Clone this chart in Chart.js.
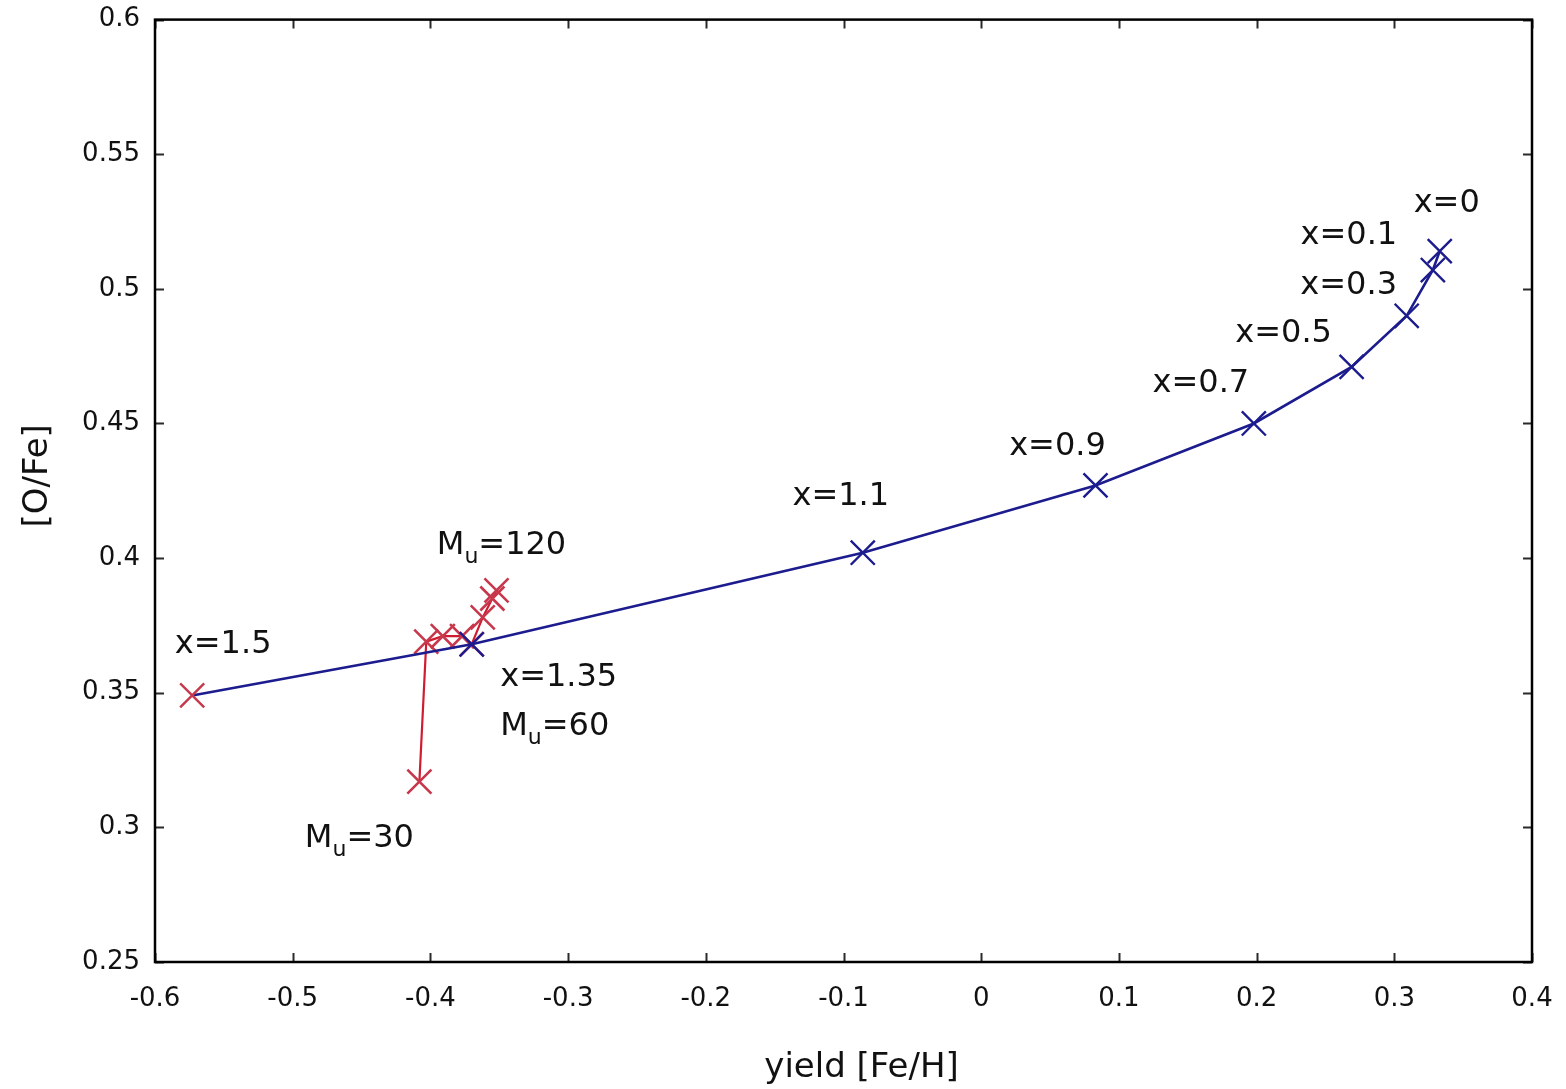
<!DOCTYPE html>
<html>
<head>
<meta charset="utf-8">
<script src="https://cdn.jsdelivr.net/npm/chart.js@4.4.1/dist/chart.umd.min.js"></script>
<style>
  html, body { margin: 0; padding: 0; background: #ffffff; }
  #wrap { width: 1566px; height: 1089px; }
</style>
</head>
<body>
<div id="wrap"><canvas id="c" width="1566" height="1089"></canvas></div>
<script>
// Axis ticks
const xTickValues = [-0.6, -0.5, -0.4, -0.3, -0.2, -0.1, 0, 0.1, 0.2, 0.3, 0.4];
const xTickLabels = ['-0.6', '-0.5', '-0.4', '-0.3', '-0.2', '-0.1', '0', '0.1', '0.2', '0.3', '0.4'];
const yTickValues = [0.25, 0.3, 0.35, 0.4, 0.45, 0.5, 0.55, 0.6];
const yTickLabels = ['0.25', '0.3', '0.35', '0.4', '0.45', '0.5', '0.55', '0.6'];

// IMF slope sequence (x = 0 ... 1.5)
const slopeNames = ['x=0', 'x=0.1', 'x=0.3', 'x=0.5', 'x=0.7', 'x=0.9', 'x=1.1', 'x=1.35', 'x=1.5'];
const slopeFeH = [0.333, 0.328, 0.309, 0.269, 0.198, 0.083, -0.086, -0.370, -0.573];
const slopeOFe = [0.514, 0.507, 0.490, 0.471, 0.450, 0.427, 0.402, 0.368, 0.349];

// Upper mass limit sequence at x = 1.35 (M_u = 30 ... 120)
const massFeH = [-0.408, -0.403, -0.391, -0.377, -0.370, -0.362, -0.355, -0.352];
const massOFe = [0.317, 0.369, 0.371, 0.371, 0.368, 0.378, 0.385, 0.388];

const BLUE = '#1c1c8e';
const RED = '#d01c30';
const PINK = '#c8384c';
const FONT = '"DejaVu Sans", sans-serif';

function pts(xs, ys) { return xs.map((v, i) => ({ x: v, y: ys[i] })); }

// Point annotations: [dataset, point index, main text, subscript, trailing text, dx, dy]
const annotations = [
  [0, 0, slopeNames[0], '', '', 7, -47],
  [0, 1, slopeNames[1], '', '', -84, -34],
  [0, 2, slopeNames[2], '', '', -58, -30],
  [0, 3, slopeNames[3], '', '', -68, -33],
  [0, 4, slopeNames[4], '', '', -53, -40],
  [0, 5, slopeNames[5], '', '', -38, -39],
  [0, 6, slopeNames[6], '', '', -22, -56],
  [0, 7, slopeNames[7], '', '', 87, 33],
  [0, 7, 'M', 'u', '=60', 83, 82],
  [0, 8, slopeNames[8], '', '', 31, -51],
  [1, 7, 'M', 'u', '=120', 5, -45],
  [1, 0, 'M', 'u', '=30', -60, 57]
];

const framePlugin = {
  id: 'frame',
  afterDraw(chart) {
    const ctx = chart.ctx;
    const a = chart.chartArea;
    const xs = chart.scales.x, ys = chart.scales.y;
    ctx.save();
    // inward tick marks on all four sides
    ctx.strokeStyle = '#2a2a2a';
    ctx.lineWidth = 2;
    const tl = 9;
    ctx.beginPath();
    xTickValues.forEach(v => {
      const px = Math.round(xs.getPixelForValue(v)) + 0.5;
      ctx.moveTo(px, a.bottom); ctx.lineTo(px, a.bottom - tl);
      ctx.moveTo(px, a.top); ctx.lineTo(px, a.top + tl);
    });
    yTickValues.forEach(v => {
      const py = Math.round(ys.getPixelForValue(v)) + 0.5;
      ctx.moveTo(a.left, py); ctx.lineTo(a.left + tl, py);
      ctx.moveTo(a.right, py); ctx.lineTo(a.right - tl, py);
    });
    ctx.stroke();
    // box
    ctx.strokeStyle = '#000000';
    ctx.lineWidth = 2.5;
    ctx.strokeRect(a.left, a.top, a.right - a.left, a.bottom - a.top);

    // annotations
    ctx.fillStyle = '#111111';
    ctx.textBaseline = 'middle';
    ctx.textAlign = 'left';
    const mainFont = '32px ' + FONT;
    const subFont = '22px ' + FONT;
    annotations.forEach(([ds, idx, main, sub, rest, dx, dy]) => {
      const el = chart.getDatasetMeta(ds).data[idx];
      const cx = el.x + dx, cy = el.y + dy;
      ctx.font = mainFont;
      const w1 = ctx.measureText(main).width;
      const w3 = rest ? ctx.measureText(rest).width : 0;
      ctx.font = subFont;
      const w2 = sub ? ctx.measureText(sub).width : 0;
      let x0 = cx - (w1 + w2 + w3) / 2;
      ctx.font = mainFont;
      ctx.fillText(main, x0, cy);
      x0 += w1;
      if (sub) {
        ctx.font = subFont;
        ctx.fillText(sub, x0, cy + 12);
        x0 += w2;
      }
      if (rest) {
        ctx.font = mainFont;
        ctx.fillText(rest, x0, cy);
      }
    });

    // axis titles
    ctx.font = '34px ' + FONT;
    ctx.textAlign = 'center';
    ctx.fillText('yield [Fe/H]', (a.left + a.right) / 2 + 18, a.bottom + 106);
    ctx.translate(a.left - 117, (a.top + a.bottom) / 2 - 15);
    ctx.rotate(-Math.PI / 2);
    ctx.fillText('[O/Fe]', 0, 0);
    ctx.restore();
  }
};

const slopeColors = slopeFeH.map((v, i) => i === slopeFeH.length - 1 ? PINK : BLUE);

new Chart(document.getElementById('c'), {
  type: 'scatter',
  data: {
    datasets: [
      {
        label: 'IMF slope',
        data: pts(slopeFeH, slopeOFe),
        showLine: true,
        borderColor: BLUE,
        borderWidth: 2.6,
        pointStyle: 'crossRot',
        pointRadius: 17,
        pointBorderWidth: 2.4,
        pointBorderColor: slopeColors,
        pointBackgroundColor: slopeColors,
        tension: 0
      },
      {
        label: 'upper mass limit',
        data: pts(massFeH, massOFe),
        showLine: true,
        borderColor: RED,
        borderWidth: 2.2,
        pointStyle: 'crossRot',
        pointRadius: 17,
        pointBorderWidth: 2.6,
        pointBorderColor: PINK,
        pointBackgroundColor: PINK,
        tension: 0
      }
    ]
  },
  options: {
    responsive: false,
    animation: false,
    devicePixelRatio: 1,
    layout: { padding: { left: 0, top: 18, right: 34, bottom: 0 } },
    plugins: {
      legend: { display: false },
      tooltip: { enabled: false }
    },
    scales: {
      x: {
        type: 'linear',
        min: -0.6,
        max: 0.4,
        afterBuildTicks(scale) { scale.ticks = xTickValues.map(v => ({ value: v })); },
        afterFit(scale) { scale.height = 127; scale.paddingLeft = 0; scale.paddingRight = 0; },
        grid: { display: false, drawTicks: false },
        border: { display: false },
        ticks: {
          padding: 22,
          color: '#111111',
          font: { family: FONT, size: 26 },
          maxRotation: 0,
          autoSkip: false,
          callback: (v, i) => xTickLabels[i]
        }
      },
      y: {
        type: 'linear',
        min: 0.25,
        max: 0.6,
        afterBuildTicks(scale) { scale.ticks = yTickValues.map(v => ({ value: v })); },
        afterFit(scale) { scale.width = 155; scale.paddingTop = 0; scale.paddingBottom = 0; },
        grid: { display: false, drawTicks: false },
        border: { display: false },
        ticks: {
          padding: 15,
          color: '#111111',
          font: { family: FONT, size: 26 },
          autoSkip: false,
          callback: (v, i) => yTickLabels[i]
        }
      }
    }
  },
  plugins: [framePlugin]
});
</script>
</body>
</html>
